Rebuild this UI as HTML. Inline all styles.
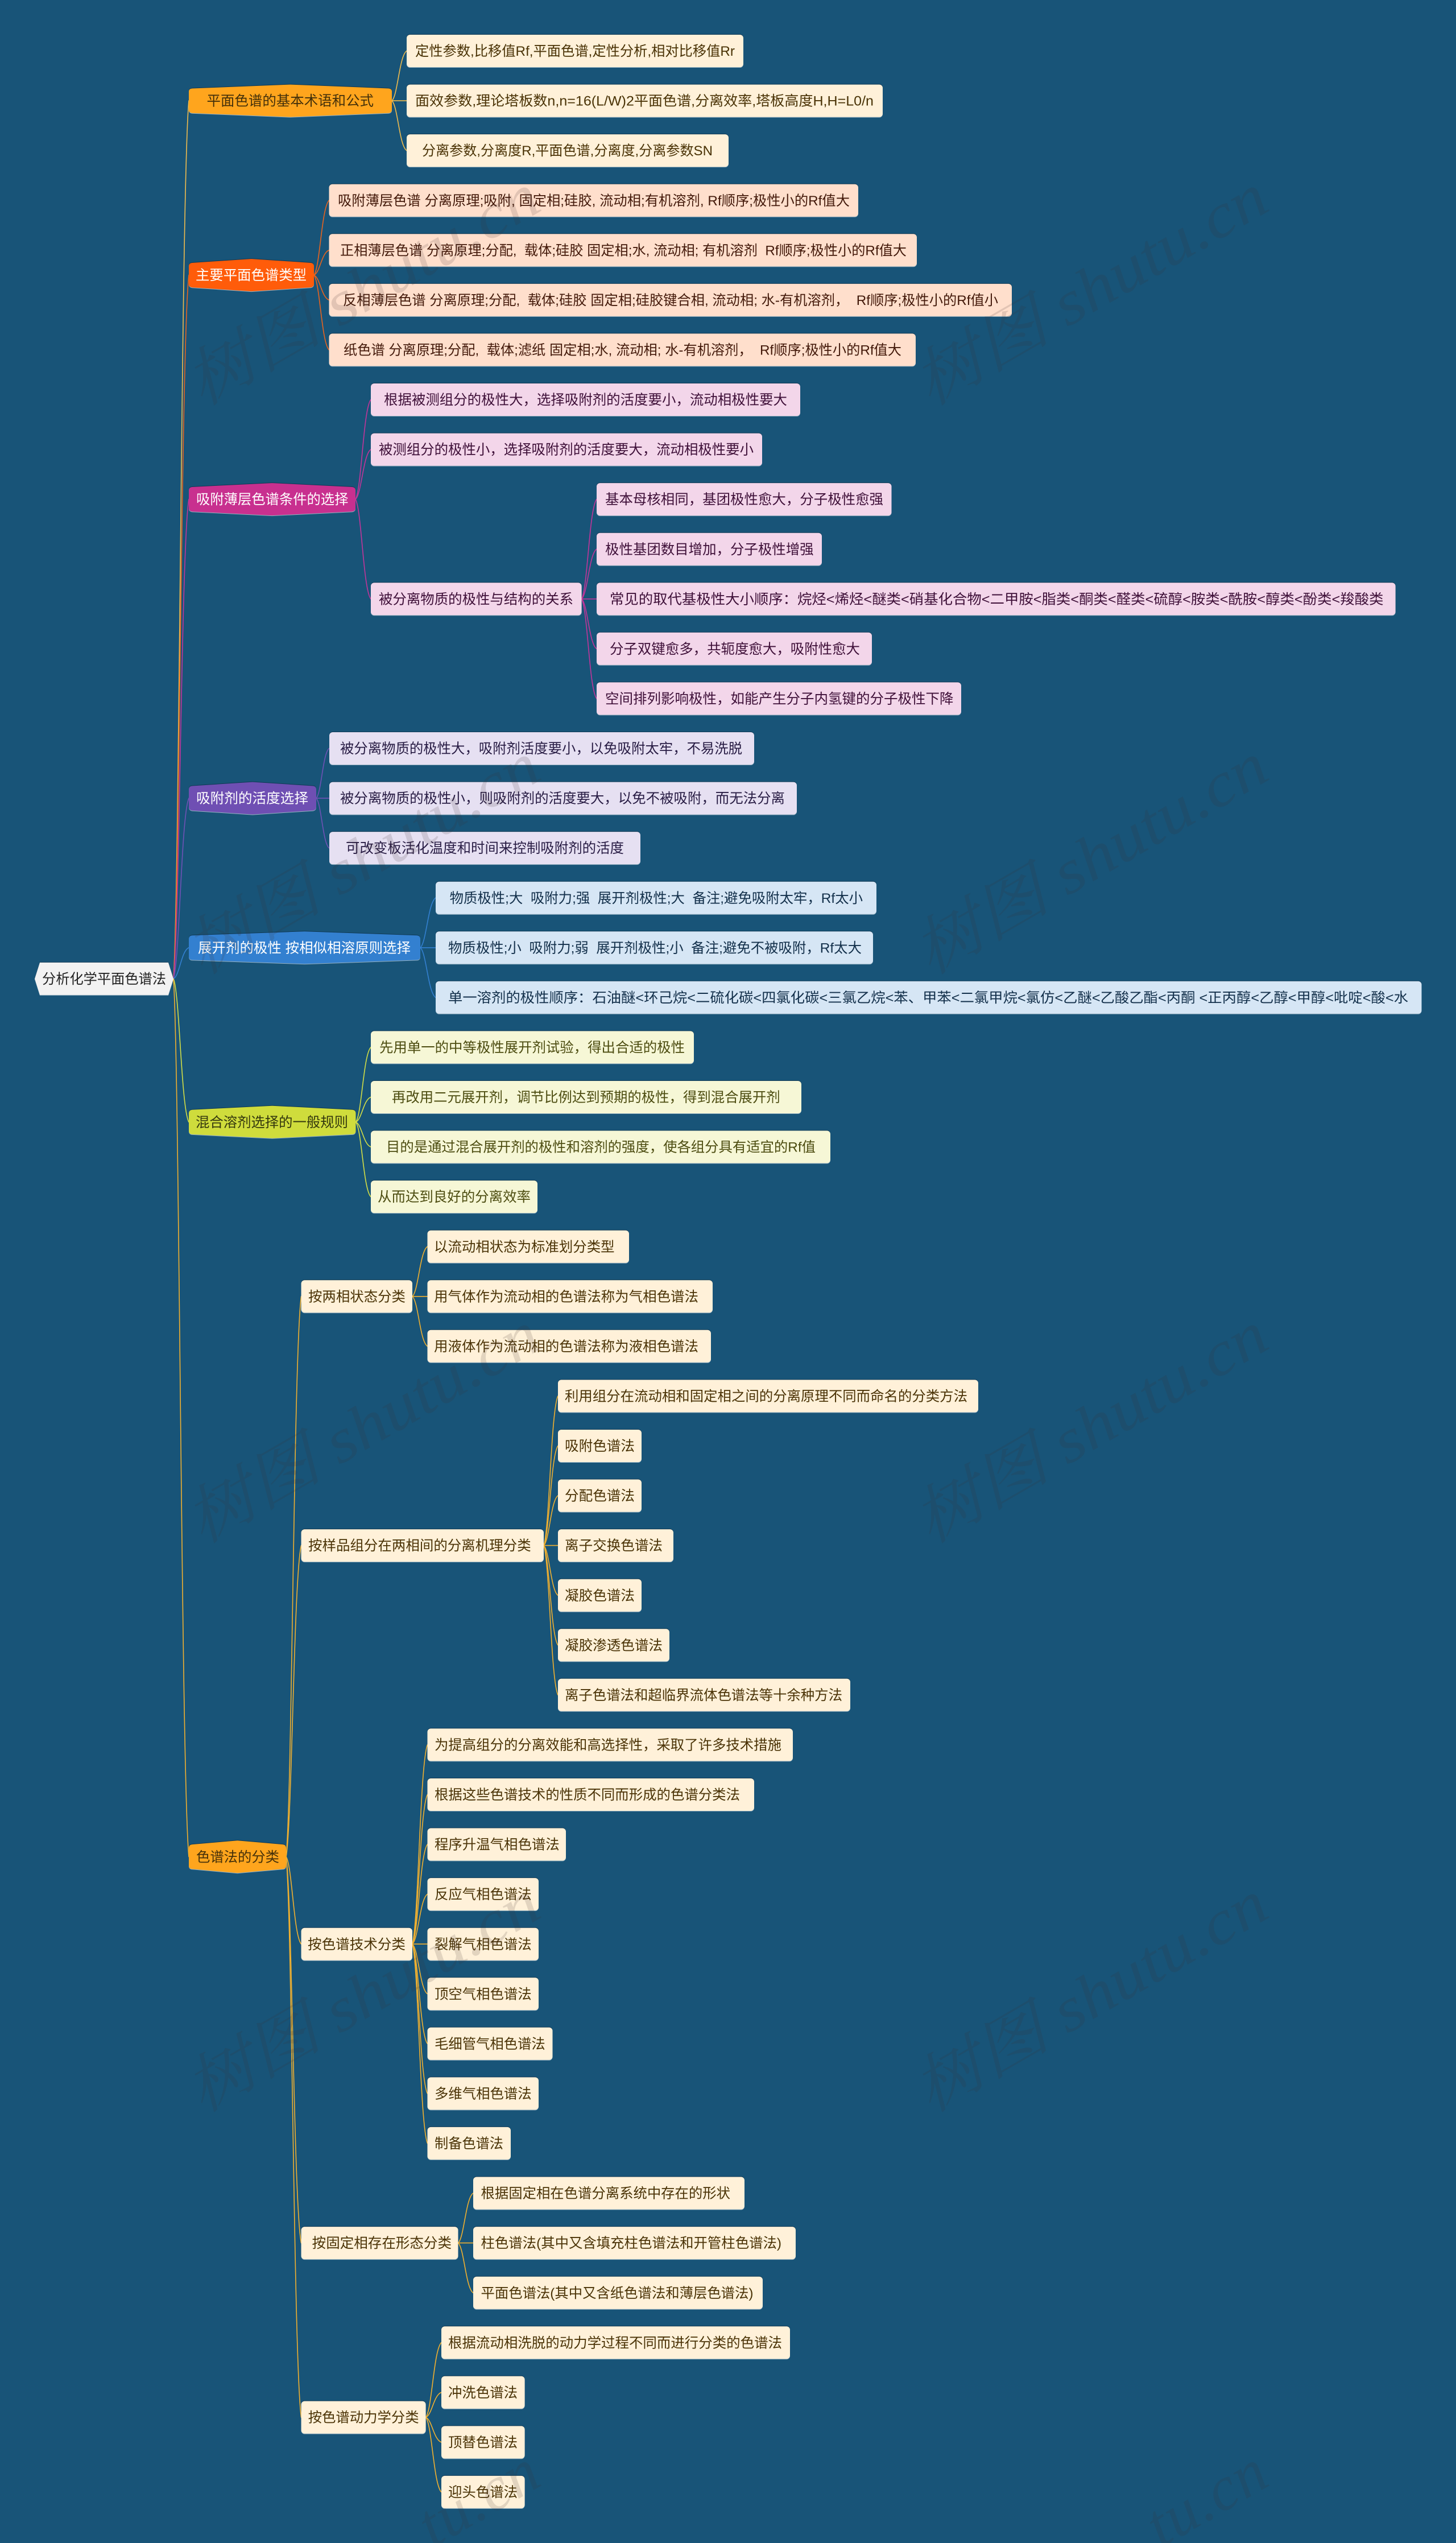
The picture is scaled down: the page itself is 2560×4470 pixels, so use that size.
<!DOCTYPE html>
<html lang="zh">
<head>
<meta charset="utf-8">
<title>分析化学平面色谱法</title>
<style>
html,body{margin:0;padding:0;background:#185478;width:2560px;height:4470px;overflow:hidden}
body{position:relative}
svg{display:block}
text{font-family:"Liberation Sans","Noto Sans CJK SC",sans-serif;font-size:24.4px;white-space:pre}
.wm text{font-family:"Liberation Serif","Noto Serif CJK SC",serif;font-size:110px;font-style:italic;fill:rgba(60,50,50,.15)}
.wb{position:absolute;height:0;line-height:0;white-space:nowrap;transform-origin:0 0;transform:rotate(-30deg);font-family:"Liberation Serif",serif;font-size:110px;font-style:italic;letter-spacing:2px;color:rgba(60,50,50,.15)}
.l{fill:none;stroke-width:1.6;stroke-linecap:round}
.n{filter:drop-shadow(0 1.5px 0 rgba(255,255,255,.55)) drop-shadow(0 -1px 0 rgba(10,40,60,.6))}
</style>
</head>
<body>
<svg xmlns="http://www.w3.org/2000/svg" width="2560" height="4470" viewBox="0 0 2560 4470">
<rect width="2560" height="4470" fill="#185478"/>

<!-- connectors -->
<g class="l" stroke="#f0bc4e">
<path d="M305 1720.4c10.800 -154 13.500 -1389 27 -1543.300"/>
<path d="M689 177.100c10.400 -9 13 -79 26 -87.600"/>
<path d="M689 177.100h26"/>
<path d="M689 177.100c10.400 9 13 79 26 87.500"/>
</g>
<g class="l" stroke="#e8641f">
<path d="M305 1720.4c10.800 -124 13.500 -1113 27 -1236.800"/>
<path d="M552 483.600c10.600 -13 13.200 -118 26.500 -131.400"/>
<path d="M552 483.600c10.600 -4 13.200 -39 26.500 -43.800"/>
<path d="M552 483.600c10.600 4 13.200 39 26.500 43.800"/>
<path d="M552 483.600c10.600 13 13.200 118 26.500 131.300"/>
</g>
<g class="l" stroke="#c2359a">
<path d="M305 1720.4c10.800 -84 13.500 -759 27 -842.800"/>
<path d="M625 877.600c10.800 -18 13.500 -158 27 -175.100"/>
<path d="M625 877.600c10.800 -9 13.500 -79 27 -87.500"/>
<path d="M625 877.600c10.800 18 13.500 158 27 175.200"/>
<path d="M1022.600 1052.800c10.600 -18 13.200 -158 26.400 -175.200"/>
<path d="M1022.600 1052.800c10.600 -9 13.200 -79 26.400 -87.600"/>
<path d="M1022.600 1052.800h26.400"/>
<path d="M1022.600 1052.800c10.600 9 13.200 79 26.400 87.500"/>
<path d="M1022.600 1052.800c10.600 18 13.200 158 26.400 175.100"/>
</g>
<g class="l" stroke="#6f52b5">
<path d="M305 1720.4c10.800 -32 13.500 -286 27 -317.300"/>
<path d="M556 1403.100c9.100 -9 11.400 -79 22.700 -87.600"/>
<path d="M556 1403.100h22.700"/>
<path d="M556 1403.100c9.100 9 11.400 79 22.700 87.500"/>
</g>
<g class="l" stroke="#3380d0">
<path d="M305 1720.4c10.800 -5 13.500 -49 27 -54.600"/>
<path d="M739 1665.800c10.800 -9 13.500 -79 27 -87.600"/>
<path d="M739 1665.800h27"/>
<path d="M739 1665.800c10.800 9 13.500 79 27 87.500"/>
</g>
<g class="l" stroke="#d2de46">
<path d="M305 1720.4c10.800 25 13.500 227 27 251.900"/>
<path d="M625.500 1972.300c10.600 -13 13.200 -118 26.500 -131.400"/>
<path d="M625.500 1972.300c10.600 -4 13.200 -39 26.500 -43.800"/>
<path d="M625.500 1972.300c10.600 4 13.200 39 26.500 43.700"/>
<path d="M625.500 1972.300c10.600 13 13.200 118 26.500 131.300"/>
</g>
<g class="l" stroke="#f0b030">
<path d="M305 1720.4c10.800 154 13.500 1389 27 1543.300"/>
<path d="M503 3263.700c10.600 -98 13.300 -886 26.600 -984.900"/>
<path d="M503 3263.700c10.600 -55 13.300 -492 26.600 -547.100"/>
<path d="M503 3263.700c10.600 15 13.300 138 26.600 153.500"/>
<path d="M503 3263.700c10.600 68 13.300 611 26.600 678.900"/>
<path d="M503 3263.700c10.600 99 13.300 887 26.600 985.400"/>
<path d="M725 2278.800c10.600 -9 13.200 -79 26.500 -87.600"/>
<path d="M725 2278.800h26.500"/>
<path d="M725 2278.800c10.600 9 13.200 79 26.500 87.500"/>
<path d="M956 2716.600c10 -26 12.500 -236 25 -262.700"/>
<path d="M956 2716.600c10 -18 12.500 -158 25 -175.100"/>
<path d="M956 2716.600c10 -9 12.500 -79 25 -87.600"/>
<path d="M956 2716.600h25"/>
<path d="M956 2716.600c10 9 12.500 79 25 87.600"/>
<path d="M956 2716.600c10 18 12.500 158 25 175.100"/>
<path d="M956 2716.600c10 26 12.500 236 25 262.700"/>
<path d="M725 3417.200c10.600 -35 13.200 -315 26.500 -350.300"/>
<path d="M725 3417.200c10.600 -26 13.200 -236 26.500 -262.700"/>
<path d="M725 3417.200c10.600 -18 13.200 -158 26.500 -175.200"/>
<path d="M725 3417.200c10.600 -9 13.200 -79 26.500 -87.600"/>
<path d="M725 3417.200h26.500"/>
<path d="M725 3417.200c10.600 9 13.200 79 26.500 87.500"/>
<path d="M725 3417.200c10.600 18 13.200 158 26.500 175.100"/>
<path d="M725 3417.200c10.600 26 13.200 236 26.500 262.700"/>
<path d="M725 3417.200c10.600 35 13.200 315 26.500 350.200"/>
<path d="M805.500 3942.600c10.600 -9 13.200 -79 26.500 -87.600"/>
<path d="M805.500 3942.600h26.500"/>
<path d="M805.500 3942.600c10.600 9 13.200 79 26.500 87.600"/>
<path d="M748.600 4249.100c11 -13 13.700 -118 27.400 -131.400"/>
<path d="M748.600 4249.100c11 -4 13.700 -39 27.400 -43.800"/>
<path d="M748.600 4249.100c11 4 13.700 39 27.400 43.800"/>
<path d="M748.600 4249.100c11 13 13.700 118 27.400 131.300"/>
</g>

<!-- root -->
<polygon class="n" points="70,1691.900 296,1691.900 305,1720.400 296,1748.900 70,1748.900 61,1720.400" fill="#f2f2f2"/>
<text x="74" y="1729" textLength="218" lengthAdjust="spacingAndGlyphs" fill="#222">分析化学平面色谱法</text>

<!-- level 1 -->
<g class="n">
<path fill="#ffa51d" d="M338 155.500L510.500 148.600L683 155.500Q689 156 689 161V193Q689 198 683 198.700L510.500 205.600L338 198.700Q332 198 332 193V161Q332 156 338 155.500Z"/>
<path fill="#ff5c0a" d="M338 462L442 455.100L546 462Q552 462.500 552 468V499Q552 504.500 546 505.200L442 512.100L338 505.200Q332 504.500 332 499V468Q332 462.500 338 462Z"/>
<path fill="#c8308f" d="M338 856L478.500 849.100L619 856Q625 856.500 625 862V893Q625 898.500 619 899.200L478.500 906.100L338 899.200Q332 898.500 332 893V862Q332 856.500 338 856Z"/>
<path fill="#6f4fb3" d="M338 1381.500L444 1374.600L550 1381.500Q556 1382 556 1388V1418Q556 1424 550 1424.700L444 1431.600L338 1424.700Q332 1424 332 1418V1388Q332 1382 338 1381.500Z"/>
<path fill="#3380d0" d="M338 1644.200L535.500 1637.300L733 1644.200Q739 1644.700 739 1650.700V1681Q739 1687 733 1687.400L535.500 1694.300L338 1687.400Q332 1687 332 1681V1650.700Q332 1644.700 338 1644.200Z"/>
<path fill="#cfdc3c" d="M338 1950.700L478.700 1943.800L619.500 1950.700Q625.500 1951.200 625.500 1957.200V1987.500Q625.500 1993.500 619.500 1993.900L478.700 2000.800L338 1993.900Q332 1993.500 332 1987.500V1957.200Q332 1951.200 338 1950.700Z"/>
<path fill="#ffa51d" d="M338 3242.100L417.500 3235.200L497 3242.100Q503 3242.600 503 3248.600V3279Q503 3285 497 3285.300L417.500 3292.200L338 3285.300Q332 3285 332 3279V3248.600Q332 3242.600 338 3242.100Z"/>
</g>
<text x="363.500" y="185.700" textLength="293.500" lengthAdjust="spacingAndGlyphs" fill="#43300a">平面色谱的基本术语和公式</text>
<text x="344" y="492.200" textLength="195" lengthAdjust="spacingAndGlyphs" fill="#fff">主要平面色谱类型</text>
<text x="345" y="886.200" textLength="267.500" lengthAdjust="spacingAndGlyphs" fill="#fff">吸附薄层色谱条件的选择</text>
<text x="345" y="1411.700" textLength="197" lengthAdjust="spacingAndGlyphs" fill="#fff">吸附剂的活度选择</text>
<text x="348" y="1674.400" textLength="374" lengthAdjust="spacingAndGlyphs" fill="#fff">展开剂的极性 按相似相溶原则选择</text>
<text x="344" y="1980.900" textLength="268" lengthAdjust="spacingAndGlyphs" fill="#34380e">混合溶剂选择的一般规则</text>
<text x="345" y="3272.300" textLength="146" lengthAdjust="spacingAndGlyphs" fill="#43300a">色谱法的分类</text>

<!-- branch 1 leaves -->
<g class="n" fill="#fff1d9">
<rect x="715" y="61" width="592" height="57" rx="6"/>
<rect x="715" y="148.600" width="837" height="57" rx="6"/>
<rect x="715" y="236.100" width="566" height="57" rx="6"/>
</g>
<g fill="#4a3306">
<text x="730" y="98.100" textLength="562" lengthAdjust="spacingAndGlyphs">定性参数,比移值Rf,平面色谱,定性分析,相对比移值Rr</text>
<text x="730" y="185.700" textLength="806" lengthAdjust="spacingAndGlyphs">面效参数,理论塔板数n,n=16(L/W)2平面色谱,分离效率,塔板高度H,H=L0/n</text>
<text x="742" y="273.200" textLength="511" lengthAdjust="spacingAndGlyphs">分离参数,分离度R,平面色谱,分离度,分离参数SN</text>
</g>

<!-- branch 2 leaves -->
<g class="n" fill="#ffdfcc">
<rect x="578.500" y="323.700" width="930.500" height="57" rx="6"/>
<rect x="578.500" y="411.300" width="1033.500" height="57" rx="6"/>
<rect x="578.500" y="498.900" width="1200.500" height="57" rx="6"/>
<rect x="578.500" y="586.400" width="1031.500" height="57" rx="6"/>
</g>
<g fill="#43190a">
<text x="594" y="360.800" textLength="900" lengthAdjust="spacingAndGlyphs">吸附薄层色谱 分离原理;吸附, 固定相;硅胶, 流动相;有机溶剂, Rf顺序;极性小的Rf值大</text>
<text x="598" y="448.400" textLength="996" lengthAdjust="spacingAndGlyphs">正相薄层色谱 分离原理;分配,  载体;硅胶 固定相;水, 流动相; 有机溶剂  Rf顺序;极性小的Rf值大</text>
<text x="603" y="536" textLength="1152" lengthAdjust="spacingAndGlyphs">反相薄层色谱 分离原理;分配,  载体;硅胶 固定相;硅胶键合相, 流动相; 水-有机溶剂，  Rf顺序;极性小的Rf值小</text>
<text x="604" y="623.500" textLength="981" lengthAdjust="spacingAndGlyphs">纸色谱 分离原理;分配,  载体;滤纸 固定相;水, 流动相; 水-有机溶剂，  Rf顺序;极性小的Rf值大</text>
</g>

<!-- branch 3 leaves -->
<g class="n" fill="#f3d6ea">
<rect x="652" y="674" width="755" height="57" rx="6"/>
<rect x="652" y="761.600" width="688" height="57" rx="6"/>
<rect x="652" y="1024.300" width="370.600" height="57" rx="6"/>
<rect x="1049" y="849.100" width="518.500" height="57" rx="6"/>
<rect x="1049" y="936.700" width="396" height="57" rx="6"/>
<rect x="1049" y="1024.300" width="1404.600" height="57" rx="6"/>
<rect x="1049" y="1111.800" width="484" height="57" rx="6"/>
<rect x="1049" y="1199.400" width="641" height="57" rx="6"/>
</g>
<g fill="#3e0f38">
<text x="675" y="711.100" textLength="709" lengthAdjust="spacingAndGlyphs">根据被测组分的极性大，选择吸附剂的活度要小，流动相极性要大</text>
<text x="666" y="798.700" textLength="659" lengthAdjust="spacingAndGlyphs">被测组分的极性小，选择吸附剂的活度要大，流动相极性要小</text>
<text x="666" y="1061.400" textLength="342" lengthAdjust="spacingAndGlyphs">被分离物质的极性与结构的关系</text>
<text x="1064" y="886.200" textLength="489" lengthAdjust="spacingAndGlyphs">基本母核相同，基团极性愈大，分子极性愈强</text>
<text x="1064" y="973.800" textLength="366.600" lengthAdjust="spacingAndGlyphs">极性基团数目增加，分子极性增强</text>
<text x="1072" y="1061.400" textLength="1360.500" lengthAdjust="spacingAndGlyphs">常见的取代基极性大小顺序：烷烃&lt;烯烃&lt;醚类&lt;硝基化合物&lt;二甲胺&lt;脂类&lt;酮类&lt;醛类&lt;硫醇&lt;胺类&lt;酰胺&lt;醇类&lt;酚类&lt;羧酸类</text>
<text x="1072" y="1148.900" textLength="440" lengthAdjust="spacingAndGlyphs">分子双键愈多，共轭度愈大，吸附性愈大</text>
<text x="1064" y="1236.500" textLength="612.500" lengthAdjust="spacingAndGlyphs">空间排列影响极性，如能产生分子内氢键的分子极性下降</text>
</g>

<!-- branch 4 leaves -->
<g class="n" fill="#e6e0f2">
<rect x="579" y="1287" width="747" height="57" rx="6"/>
<rect x="579" y="1374.600" width="822" height="57" rx="6"/>
<rect x="579" y="1462.100" width="547" height="57" rx="6"/>
</g>
<g fill="#281c44">
<text x="598" y="1324.100" textLength="707" lengthAdjust="spacingAndGlyphs">被分离物质的极性大，吸附剂活度要小，以免吸附太牢，不易洗脱</text>
<text x="598" y="1411.700" textLength="782" lengthAdjust="spacingAndGlyphs">被分离物质的极性小，则吸附剂的活度要大，以免不被吸附，而无法分离</text>
<text x="608" y="1499.200" textLength="489" lengthAdjust="spacingAndGlyphs">可改变板活化温度和时间来控制吸附剂的活度</text>
</g>

<!-- branch 5 leaves -->
<g class="n" fill="#d6e6f5">
<rect x="766" y="1549.700" width="775" height="57" rx="6"/>
<rect x="766" y="1637.300" width="769" height="57" rx="6"/>
<rect x="766" y="1724.800" width="1733.500" height="57" rx="6"/>
</g>
<g fill="#122f4a">
<text x="790.600" y="1586.800" textLength="726.400" lengthAdjust="spacingAndGlyphs">物质极性;大  吸附力;强  展开剂极性;大  备注;避免吸附太牢，Rf太小</text>
<text x="788" y="1674.400" textLength="727" lengthAdjust="spacingAndGlyphs">物质极性;小  吸附力;弱  展开剂极性;小  备注;避免不被吸附，Rf太大</text>
<text x="788" y="1761.900" textLength="1688" lengthAdjust="spacingAndGlyphs">单一溶剂的极性顺序：石油醚&lt;环己烷&lt;二硫化碳&lt;四氯化碳&lt;三氯乙烷&lt;苯、甲苯&lt;二氯甲烷&lt;氯仿&lt;乙醚&lt;乙酸乙酯&lt;丙酮 &lt;正丙醇&lt;乙醇&lt;甲醇&lt;吡啶&lt;酸&lt;水</text>
</g>

<!-- branch 6 leaves -->
<g class="n" fill="#f6f7d6">
<rect x="652" y="1812.400" width="568" height="57" rx="6"/>
<rect x="652" y="1900" width="757" height="57" rx="6"/>
<rect x="652" y="1987.500" width="808" height="57" rx="6"/>
<rect x="652" y="2075.100" width="293" height="57" rx="6"/>
</g>
<g fill="#4c4c10">
<text x="667" y="1849.500" textLength="537" lengthAdjust="spacingAndGlyphs">先用单一的中等极性展开剂试验，得出合适的极性</text>
<text x="689" y="1937.100" textLength="682.600" lengthAdjust="spacingAndGlyphs">再改用二元展开剂，调节比例达到预期的极性，得到混合展开剂</text>
<text x="679" y="2024.600" textLength="755" lengthAdjust="spacingAndGlyphs">目的是通过混合展开剂的极性和溶剂的强度，使各组分具有适宜的Rf值</text>
<text x="664" y="2112.200" textLength="269" lengthAdjust="spacingAndGlyphs">从而达到良好的分离效率</text>
</g>

<!-- branch 7 sub nodes and leaves -->
<g class="n" fill="#fff1d9">
<rect x="529.600" y="2250.300" width="195.400" height="57" rx="6"/>
<rect x="529.600" y="2688.100" width="426.400" height="57" rx="6"/>
<rect x="529.600" y="3388.700" width="195.400" height="57" rx="6"/>
<rect x="529.600" y="3914.100" width="275.900" height="57" rx="6"/>
<rect x="529.600" y="4220.600" width="219" height="57" rx="6"/>

<rect x="751.500" y="2162.700" width="354.500" height="57" rx="6"/>
<rect x="751.500" y="2250.300" width="501.500" height="57" rx="6"/>
<rect x="751.500" y="2337.800" width="498.500" height="57" rx="6"/>

<rect x="981" y="2425.400" width="739" height="57" rx="6"/>
<rect x="981" y="2513" width="147" height="57" rx="6"/>
<rect x="981" y="2600.500" width="147" height="57" rx="6"/>
<rect x="981" y="2688.100" width="203" height="57" rx="6"/>
<rect x="981" y="2775.700" width="147" height="57" rx="6"/>
<rect x="981" y="2863.200" width="196" height="57" rx="6"/>
<rect x="981" y="2950.800" width="514" height="57" rx="6"/>

<rect x="751.500" y="3038.400" width="642.500" height="57" rx="6"/>
<rect x="751.500" y="3126" width="574.500" height="57" rx="6"/>
<rect x="751.500" y="3213.500" width="243.500" height="57" rx="6"/>
<rect x="751.500" y="3301.100" width="195.500" height="57" rx="6"/>
<rect x="751.500" y="3388.700" width="195.500" height="57" rx="6"/>
<rect x="751.500" y="3476.200" width="195.500" height="57" rx="6"/>
<rect x="751.500" y="3563.800" width="220" height="57" rx="6"/>
<rect x="751.500" y="3651.400" width="195.500" height="57" rx="6"/>
<rect x="751.500" y="3738.900" width="146.500" height="57" rx="6"/>

<rect x="832" y="3826.500" width="477" height="57" rx="6"/>
<rect x="832" y="3914.100" width="567" height="57" rx="6"/>
<rect x="832" y="4001.700" width="509" height="57" rx="6"/>

<rect x="776" y="4089.200" width="613" height="57" rx="6"/>
<rect x="776" y="4176.800" width="146.600" height="57" rx="6"/>
<rect x="776" y="4264.400" width="146.600" height="57" rx="6"/>
<rect x="776" y="4351.900" width="146.600" height="57" rx="6"/>
</g>
<g fill="#4a3306">
<text x="542" y="2287.400" textLength="171" lengthAdjust="spacingAndGlyphs">按两相状态分类</text>
<text x="542" y="2725.200" textLength="391.700" lengthAdjust="spacingAndGlyphs">按样品组分在两相间的分离机理分类</text>
<text x="541" y="3425.800" textLength="172" lengthAdjust="spacingAndGlyphs">按色谱技术分类</text>
<text x="548.700" y="3951.200" textLength="245.300" lengthAdjust="spacingAndGlyphs">按固定相存在形态分类</text>
<text x="541.700" y="4257.700" textLength="195" lengthAdjust="spacingAndGlyphs">按色谱动力学分类</text>

<text x="763" y="2199.800" textLength="317.600" lengthAdjust="spacingAndGlyphs">以流动相状态为标准划分类型</text>
<text x="763" y="2287.400" textLength="465" lengthAdjust="spacingAndGlyphs">用气体作为流动相的色谱法称为气相色谱法</text>
<text x="763" y="2374.900" textLength="465" lengthAdjust="spacingAndGlyphs">用液体作为流动相的色谱法称为液相色谱法</text>

<text x="993" y="2462.500" textLength="708" lengthAdjust="spacingAndGlyphs">利用组分在流动相和固定相之间的分离原理不同而命名的分类方法</text>
<text x="993" y="2550.100" textLength="123" lengthAdjust="spacingAndGlyphs">吸附色谱法</text>
<text x="993" y="2637.600" textLength="123" lengthAdjust="spacingAndGlyphs">分配色谱法</text>
<text x="993" y="2725.200" textLength="172" lengthAdjust="spacingAndGlyphs">离子交换色谱法</text>
<text x="993" y="2812.800" textLength="123" lengthAdjust="spacingAndGlyphs">凝胶色谱法</text>
<text x="993" y="2900.300" textLength="172" lengthAdjust="spacingAndGlyphs">凝胶渗透色谱法</text>
<text x="993" y="2987.900" textLength="488" lengthAdjust="spacingAndGlyphs">离子色谱法和超临界流体色谱法等十余种方法</text>

<text x="764" y="3075.500" textLength="610" lengthAdjust="spacingAndGlyphs">为提高组分的分离效能和高选择性，采取了许多技术措施</text>
<text x="764" y="3163.100" textLength="537" lengthAdjust="spacingAndGlyphs">根据这些色谱技术的性质不同而形成的色谱分类法</text>
<text x="764" y="3250.600" textLength="219.700" lengthAdjust="spacingAndGlyphs">程序升温气相色谱法</text>
<text x="764" y="3338.200" textLength="170.600" lengthAdjust="spacingAndGlyphs">反应气相色谱法</text>
<text x="764" y="3425.800" textLength="170.600" lengthAdjust="spacingAndGlyphs">裂解气相色谱法</text>
<text x="764" y="3513.300" textLength="170.600" lengthAdjust="spacingAndGlyphs">顶空气相色谱法</text>
<text x="764" y="3600.900" textLength="194.800" lengthAdjust="spacingAndGlyphs">毛细管气相色谱法</text>
<text x="764" y="3688.500" textLength="170.600" lengthAdjust="spacingAndGlyphs">多维气相色谱法</text>
<text x="764" y="3776" textLength="121" lengthAdjust="spacingAndGlyphs">制备色谱法</text>

<text x="845.500" y="3863.600" textLength="438.500" lengthAdjust="spacingAndGlyphs">根据固定相在色谱分离系统中存在的形状</text>
<text x="845.500" y="3951.200" textLength="528.500" lengthAdjust="spacingAndGlyphs">柱色谱法(其中又含填充柱色谱法和开管柱色谱法)</text>
<text x="845.500" y="4038.800" textLength="479" lengthAdjust="spacingAndGlyphs">平面色谱法(其中又含纸色谱法和薄层色谱法)</text>

<text x="788" y="4126.300" textLength="587" lengthAdjust="spacingAndGlyphs">根据流动相洗脱的动力学过程不同而进行分类的色谱法</text>
<text x="788" y="4213.900" textLength="122" lengthAdjust="spacingAndGlyphs">冲洗色谱法</text>
<text x="788" y="4301.500" textLength="122" lengthAdjust="spacingAndGlyphs">顶替色谱法</text>
<text x="788" y="4389" textLength="122" lengthAdjust="spacingAndGlyphs">迎头色谱法</text>
</g>

<!-- watermarks -->
<g class="wm">
<text transform="translate(355,715) rotate(-30)" textLength="695" lengthAdjust="spacingAndGlyphs">树图 shutu.cn</text>
<text transform="translate(1635,715) rotate(-30)" textLength="695" lengthAdjust="spacingAndGlyphs">树图 shutu.cn</text>
<text transform="translate(355,1715) rotate(-30)" textLength="695" lengthAdjust="spacingAndGlyphs">树图 shutu.cn</text>
<text transform="translate(1635,1715) rotate(-30)" textLength="695" lengthAdjust="spacingAndGlyphs">树图 shutu.cn</text>
<text transform="translate(355,2715) rotate(-30)" textLength="695" lengthAdjust="spacingAndGlyphs">树图 shutu.cn</text>
<text transform="translate(1635,2715) rotate(-30)" textLength="695" lengthAdjust="spacingAndGlyphs">树图 shutu.cn</text>
<text transform="translate(355,3715) rotate(-30)" textLength="695" lengthAdjust="spacingAndGlyphs">树图 shutu.cn</text>
<text transform="translate(1635,3715) rotate(-30)" textLength="695" lengthAdjust="spacingAndGlyphs">树图 shutu.cn</text>
</g>
</svg>
<div class="wb" style="left:743px;top:4447px">tu.cn</div>
<div class="wb" style="left:2023px;top:4447px">tu.cn</div>
</body>
</html>
